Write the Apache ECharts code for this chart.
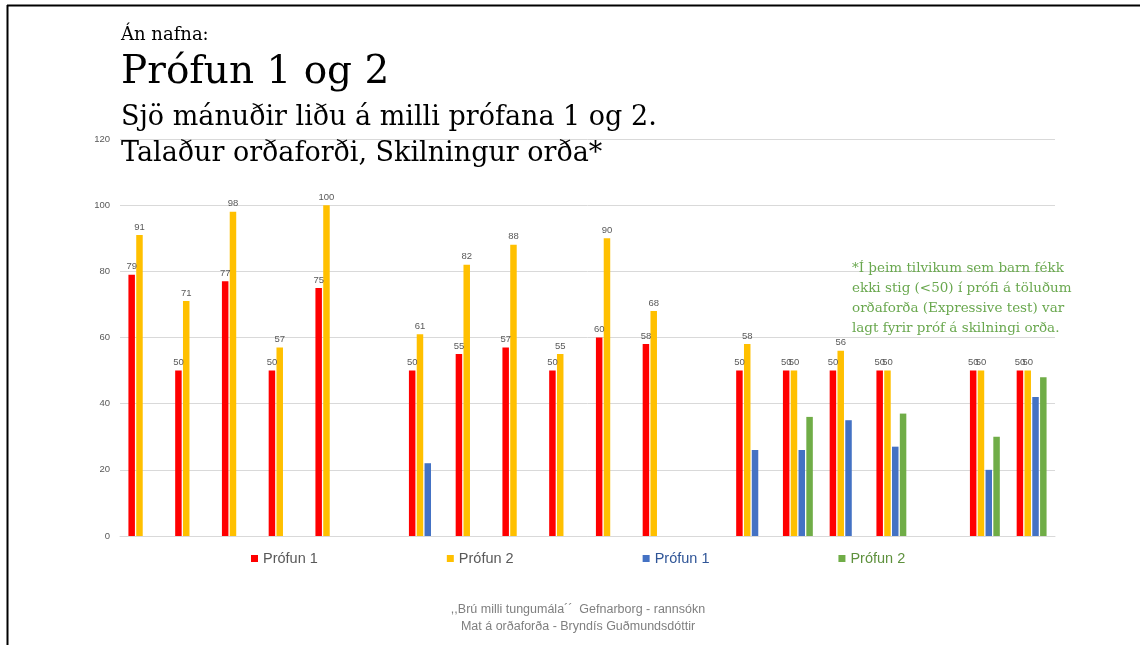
<!DOCTYPE html>
<html>
<head>
<meta charset="utf-8">
<script src="https://cdn.jsdelivr.net/npm/echarts@6/dist/echarts.min.js"></script>
<style>
html,body{margin:0;padding:0;background:#fff;}
#chart{width:1140px;height:645px;}
</style>
</head>
<body>
<div id="chart"></div>
<script>
// Categories (20 slots, a few empty separators)
const categories = ['1','2','3','4','5','6','7','8','9','10','11','12','13','14','15','16','17','18','19','20'];
// Talaður orðaforði (Expressive) - Prófun 1 and 2
const exp1 = [79, 50, 77, 50, 75, null, 50, 55, 57, 50, 60, 58, null, 50, 50, 50, 50, null, 50, 50];
const exp2 = [91, 71, 98, 57, 100, null, 61, 82, 88, 55, 90, 68, null, 58, 50, 56, 50, null, 50, 50];
// Skilningur orða (Receptive) - Prófun 1 and 2
const rec1 = [null, null, null, null, null, null, 22, null, null, null, null, null, null, 26, 26, 35, 27, null, 20, 42];
const rec2 = [null, null, null, null, null, null, null, null, null, null, null, null, null, null, 36, null, 37, null, 30, 48];
const legendLabels = ['Prófun 1', 'Prófun 2', 'Prófun 1', 'Prófun 2'];
const yTicks = {min: 0, max: 120, interval: 20};

const chart = echarts.init(document.getElementById('chart'), null, {renderer: 'canvas'});
const serif = '"DejaVu Serif", "Liberation Serif", serif';
const sans = '"Liberation Sans", "Open Sans", sans-serif';
const labelCfg = {show: true, position: 'top', distance: 3, fontSize: 9.5, color: '#595959', fontFamily: sans};
const nameMap = {s1: legendLabels[0], s2: legendLabels[1], s3: legendLabels[2], s4: legendLabels[3]};

chart.setOption({
  backgroundColor: '#ffffff',
  animation: false,
  title: [
    {text: 'Án nafna:', left: 121, top: 26, padding: 0, textStyle: {fontFamily: serif, fontWeight: 'normal', fontSize: 18, color: '#000'}},
    {text: 'Prófun 1 og 2', left: 121, top: 53, padding: 0, textStyle: {fontFamily: serif, fontWeight: 'normal', fontSize: 39, color: '#000'}},
    {text: 'Sjö mánuðir liðu á milli prófana 1 og 2.', left: 121, top: 104, padding: 0, textStyle: {fontFamily: serif, fontWeight: 'normal', fontSize: 27, color: '#000'}},
    {text: 'Talaður orðaforði, Skilningur orða*', left: 121, top: 140, padding: 0, textStyle: {fontFamily: serif, fontWeight: 'normal', fontSize: 27, color: '#000'}},
    {text: '*Í þeim tilvikum sem barn fékk\nekki stig (<50) í prófi á töluðum\norðaforða (Expressive test) var\nlagt fyrir próf á skilningi orða.', left: 852, top: 258, padding: 0,
     textStyle: {fontFamily: serif, fontWeight: 'normal', fontSize: 13.5, lineHeight: 20, color: '#6AA84F'}},
    {text: ',,Brú milli tungumála´´  Gefnarborg - rannsókn\nMat á orðaforða - Bryndís Guðmundsdóttir', left: 578, top: 601, padding: 0, textAlign: 'center',
     textStyle: {fontFamily: sans, fontWeight: 'normal', fontSize: 12.5, lineHeight: 17, color: '#7F7F7F', align: 'center'}}
  ],
  legend: {
    left: 246, top: 546, itemWidth: 7, itemHeight: 7, itemGap: 129, icon: 'rect',
    textStyle: {fontFamily: sans, fontSize: 14.5, color: '#595959'},
    formatter: n => nameMap[n],
    data: [
      {name: 's1'}, {name: 's2'},
      {name: 's3', textStyle: {color: '#2F5597'}},
      {name: 's4', textStyle: {color: '#5E913D'}}
    ]
  },
  grid: {left: 120, right: 85, top: 139, bottom: 109, containLabel: false},
  xAxis: {
    type: 'category', data: categories,
    axisLine: {show: true, lineStyle: {color: '#D9D9D9'}},
    axisTick: {show: false}, axisLabel: {show: false}
  },
  yAxis: {
    type: 'value', min: yTicks.min, max: yTicks.max, interval: yTicks.interval,
    axisLine: {show: false}, axisTick: {show: false},
    axisLabel: {fontSize: 9.5, color: '#595959', fontFamily: sans, margin: 10},
    splitLine: {lineStyle: {color: '#D9D9D9'}}
  },
  series: [
    {name: 's1', type: 'bar', data: exp1, itemStyle: {color: '#FF0000'}, barWidth: 6.5, barGap: '20%', label: labelCfg},
    {name: 's2', type: 'bar', data: exp2, itemStyle: {color: '#FFC000'}, barWidth: 6.5, barGap: '20%', label: labelCfg},
    {name: 's3', type: 'bar', data: rec1, itemStyle: {color: '#4472C4'}, barWidth: 6.5, barGap: '20%'},
    {name: 's4', type: 'bar', data: rec2, itemStyle: {color: '#70AD47'}, barWidth: 6.5, barGap: '20%'}
  ],
  graphic: [
    {type: 'line', shape: {x1: 7, y1: 5.5, x2: 1140, y2: 5.5}, style: {stroke: '#000', lineWidth: 2}, z: 100},
    {type: 'line', shape: {x1: 7.5, y1: 5, x2: 7.5, y2: 645}, style: {stroke: '#000', lineWidth: 2}, z: 100}
  ]
});
</script>
</body>
</html>
